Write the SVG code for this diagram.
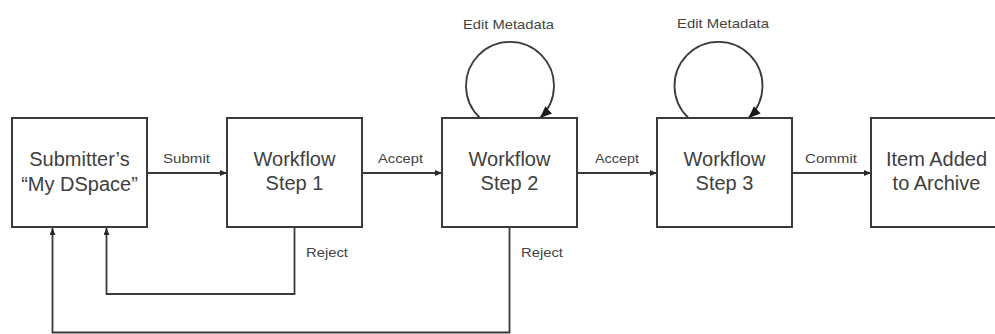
<svg xmlns="http://www.w3.org/2000/svg" width="995" height="334" viewBox="0 0 995 334">
<style>
.box{fill:#ffffff;stroke:#3a3a3a;stroke-width:2}
.main{font-family:"Liberation Sans",Arial,sans-serif;font-size:20px;fill:#404040;text-anchor:middle}
.lbl{font-family:"Liberation Sans",Arial,sans-serif;font-size:13px;fill:#444444}
.con{fill:none;stroke:#3a3a3a;stroke-width:1.8}
</style>
<defs>
<marker id="ah" markerUnits="userSpaceOnUse" markerWidth="8" markerHeight="7" refX="7" refY="3" orient="auto">
<path d="M0,0 L7,3 L0,6 z" fill="#2a2a2a"/>
</marker>
<marker id="ahBig" markerUnits="userSpaceOnUse" markerWidth="13" markerHeight="11" refX="12" refY="5" orient="auto">
<path d="M0,0 L12,5 L0,10 z" fill="#1a1a1a"/>
</marker>
</defs>
<rect width="995" height="334" fill="#ffffff"/>
<g id="connectors">
<path class="con" d="M147 173 H227" marker-end="url(#ah)"/>
<path class="con" d="M362 173 H442" marker-end="url(#ah)"/>
<path class="con" d="M577 173 H657" marker-end="url(#ah)"/>
<path class="con" d="M792 173 H871" marker-end="url(#ah)"/>
<path class="con" d="M294.5 227 V294 H106.5 V228" marker-end="url(#ah)"/>
<path class="con" d="M509.5 227 V332.5 H52.5 V228" marker-end="url(#ah)"/>
<path class="con" d="M480 118 A44 44 0 1 1 540 118" marker-end="url(#ahBig)"/>
<path class="con" d="M688.5 118 A44 44 0 1 1 748.5 118" marker-end="url(#ahBig)"/>
<text class="lbl" x="163" y="163" textLength="47" lengthAdjust="spacingAndGlyphs">Submit</text>
<text class="lbl" x="378" y="163" textLength="45" lengthAdjust="spacingAndGlyphs">Accept</text>
<text class="lbl" x="595" y="163" textLength="44" lengthAdjust="spacingAndGlyphs">Accept</text>
<text class="lbl" x="805" y="163" textLength="52" lengthAdjust="spacingAndGlyphs">Commit</text>
<text class="lbl" x="306" y="257" textLength="42" lengthAdjust="spacingAndGlyphs">Reject</text>
<text class="lbl" x="521" y="257" textLength="42" lengthAdjust="spacingAndGlyphs">Reject</text>
<text class="lbl" x="463" y="29" textLength="91" lengthAdjust="spacingAndGlyphs">Edit Metadata</text>
<text class="lbl" x="677" y="28" textLength="92" lengthAdjust="spacingAndGlyphs">Edit Metadata</text>
</g>
<g id="submitter">
<rect class="box" x="12" y="118" width="135" height="109"/>
<text class="main" x="79.5" y="166">Submitter’s</text>
<text class="main" x="79.5" y="191">“My DSpace”</text>
</g>
<g id="step1">
<rect class="box" x="227" y="118" width="135" height="109"/>
<text class="main" x="294.5" y="166">Workflow</text>
<text class="main" x="294.5" y="190">Step 1</text>
</g>
<g id="step2">
<rect class="box" x="442" y="118" width="135" height="109"/>
<text class="main" x="509.5" y="166">Workflow</text>
<text class="main" x="509.5" y="190">Step 2</text>
</g>
<g id="step3">
<rect class="box" x="657" y="118" width="135" height="109"/>
<text class="main" x="724.5" y="166">Workflow</text>
<text class="main" x="724.5" y="190">Step 3</text>
</g>
<g id="archive">
<rect class="box" x="871" y="118" width="135" height="109"/>
<text class="main" x="936.5" y="166">Item Added</text>
<text class="main" x="936.5" y="190">to Archive</text>
</g>
</svg>
